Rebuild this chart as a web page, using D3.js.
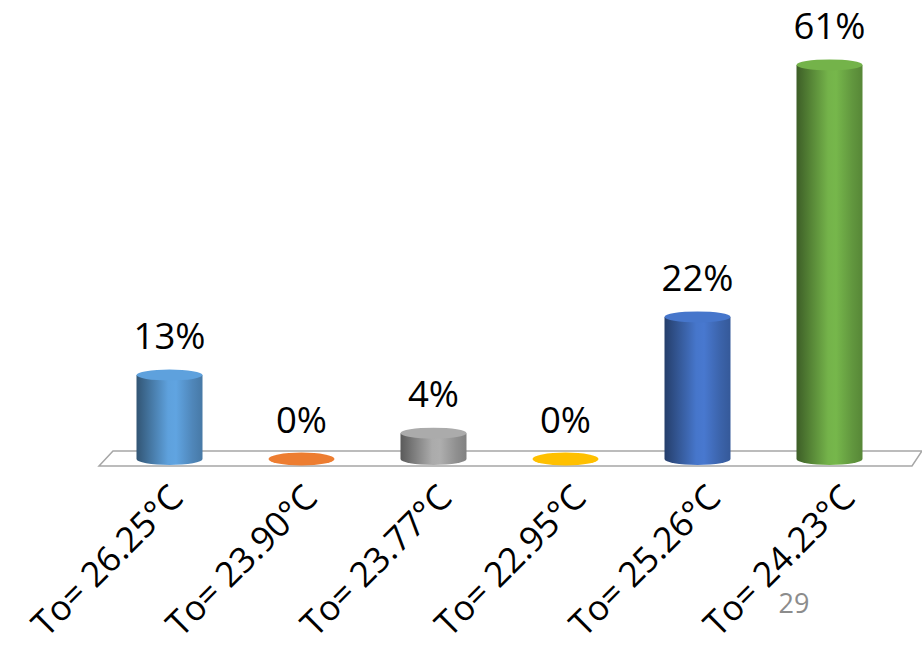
<!DOCTYPE html>
<html>
<head>
<meta charset="utf-8">
<script src="https://cdn.jsdelivr.net/npm/d3@7/dist/d3.min.js"></script>
<style>
  html, body { margin: 0; padding: 0; background: #ffffff; }
  svg { display: block; }
</style>
</head>
<body>
<svg id="chart" width="922" height="649"></svg>
<script>
// Operative temperature scenarios and share of votes per scenario
const categories = ["To= 26.25°C", "To= 23.90°C", "To= 23.77°C", "To= 22.95°C", "To= 25.26°C", "To= 24.23°C"];
const values = [13, 0, 4, 0, 22, 61];
const valueLabels = ["13%", "0%", "4%", "0%", "22%", "61%"];
const colors = ["#5B9BD5", "#ED7D31", "#A5A5A5", "#FFC000", "#4472C4", "#70AD47"];
const pageNumber = "29";

const W = 922, H = 649;
const baseY = 459;          // centre of the cylinders' base ellipses
const pxPerUnit = 6.46;
const ry = 6;               // vertical radius of the cylinder ellipses

const svg = d3.select("#chart");
const defs = svg.append("defs");

const x = d3.scalePoint().domain(categories).range([103.5, 895.5]).padding(0.5);
const xLabel = d3.scalePoint().domain(categories).range([117.8, 924.2]).padding(0.5);
const y = d3.scaleLinear().domain([0, 70]).range([baseY, baseY - 70 * pxPerUnit]);
const barW = x.step() * 0.5;
const rx = barW / 2;

// floor of the 3D plot area
const floor = svg.append("g");
const backY = 451, frontY = 466;
floor.append("path")
  .attr("d", `M113,${backY} L922,${backY} L912,${frontY} L99,${frontY} Z`)
  .attr("fill", "#ffffff")
  .attr("stroke", "#a6a6a6")
  .attr("stroke-width", 1.5);

// horizontal shading for each cylinder body
colors.forEach((c, i) => {
  const base = d3.color(c);
  const g = defs.append("linearGradient")
    .attr("id", "cyl" + i)
    .attr("x1", "0%").attr("x2", "100%").attr("y1", "0%").attr("y2", "0%");
  const stops = [
    [0, base.darker(1.7)],
    [0.2, base.darker(0.8)],
    [0.48, base.brighter(0.1)],
    [0.6, base.brighter(0.15)],
    [0.85, base.darker(0.4)],
    [1, base.darker(0.7)]
  ];
  stops.forEach(([o, col]) => g.append("stop").attr("offset", o).attr("stop-color", col.formatHex()));
});

const bars = svg.append("g").selectAll("g")
  .data(categories.map((c, i) => ({ c, v: values[i], label: valueLabels[i], i })))
  .join("g");

// cylinder body: side plus lower half of the base ellipse
bars.filter(d => d.v > 0).append("path")
  .attr("d", d => {
    const cx = x(d.c), x0 = cx - rx, x1 = cx + rx;
    const yt = y(d.v), yb = y(0);
    return `M${x0},${yt} L${x0},${yb} A${rx},${ry} 0 0 0 ${x1},${yb} L${x1},${yt} Z`;
  })
  .attr("fill", d => `url(#cyl${d.i})`);

// top ellipse
bars.append("ellipse")
  .attr("cx", d => x(d.c))
  .attr("cy", d => y(d.v))
  .attr("rx", rx)
  .attr("ry", d => d.v > 0 ? ry - 0.5 : ry + 0.5)
  .attr("fill", d => d.v > 0 ? d3.color(colors[d.i]).brighter(0.1).formatHex() : colors[d.i]);

// value labels
bars.append("text")
  .attr("x", d => x(d.c))
  .attr("y", d => y(d.v) - 26)
  .attr("text-anchor", "middle")
  .attr("font-family", "'Open Sans', 'Liberation Sans', sans-serif")
  .attr("font-size", 36.5)
  .attr("fill", "#000000")
  .text(d => d.label);

// category labels, rotated
svg.append("g").selectAll("text")
  .data(categories)
  .join("text")
  .attr("transform", d => `translate(${xLabel(d)},500) rotate(-45)`)
  .attr("text-anchor", "end")
  .attr("font-family", "'Open Sans', 'Liberation Sans', sans-serif")
  .attr("font-size", 35)
  .attr("fill", "#000000")
  .text(d => d);

// page number
svg.append("text")
  .attr("x", 794)
  .attr("y", 613)
  .attr("text-anchor", "middle")
  .attr("font-family", "'Open Sans', 'Liberation Sans', sans-serif")
  .attr("font-size", 27)
  .attr("fill", "#8c8c8c")
  .text(pageNumber);
</script>
</body>
</html>
